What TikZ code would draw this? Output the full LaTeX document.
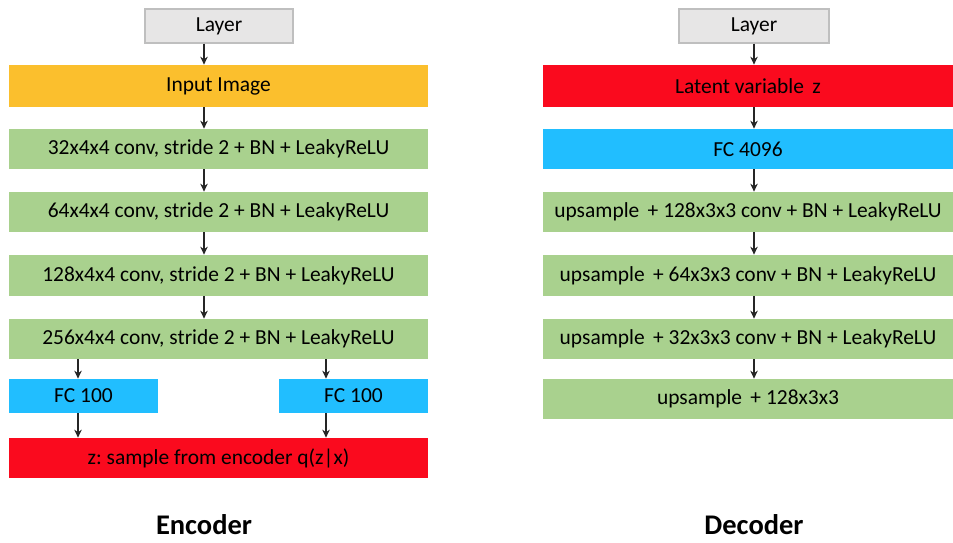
\documentclass[tikz,border=0pt]{standalone}
\usepackage{fontspec}
\setmainfont{Carlito}
\usetikzlibrary{arrows.meta}
\frenchspacing
\definecolor{layergray}{HTML}{E7E6E6}
\definecolor{layerline}{HTML}{BFBFBF}
\definecolor{inorange}{HTML}{FBBF2D}
\definecolor{convgreen}{HTML}{A9D18E}
\definecolor{fcblue}{HTML}{21BEFF}
\definecolor{zred}{HTML}{FA0A1E}
\tikzset{
	blk/.style={inner sep=0pt, minimum height=0.8cm, font=\fontsize{12.2}{14}\selectfont},
	layerbox/.style={blk, fill=layergray, draw=layerline, line width=0.6pt, minimum width=2.96cm, minimum height=0.68cm},
	wide/.style={minimum width=8.38cm},
	dwide/.style={minimum width=8.2cm},
	arr/.style={-{Stealth[length=1.6mm,width=1.5mm]}, line width=0.7pt, black!85},
	title/.style={inner sep=0pt, font=\fontsize{16.2}{18}\selectfont\bfseries}
}

\begin{document}
\begin{tikzpicture}
		%%%%% START %%%%%
		\useasboundingbox (0, 0) rectangle (19.06, -10.86);
		
		% encoder
		\node[layerbox] (lay1) at (4.38, -0.52) {Layer};
		\node[blk, wide, fill=inorange, minimum height=0.84cm] (inp) at (4.37, -1.72) {Input Image};
		\node[blk, wide, fill=convgreen] (c32) at (4.37, -2.98) {32x4x4 conv, stride 2 + BN + LeakyReLU};
		\node[blk, wide, fill=convgreen] (c64) at (4.37, -4.24) {64x4x4 conv, stride 2 + BN + LeakyReLU};
		\node[blk, wide, fill=convgreen, minimum height=0.82cm] (c128) at (4.37, -5.51) {128x4x4 conv, stride 2 + BN + LeakyReLU};
		\node[blk, wide, fill=convgreen] (c256) at (4.37, -6.78) {256x4x4 conv, stride 2 + BN + LeakyReLU};
		\node[blk, fill=fcblue, minimum width=2.98cm, minimum height=0.68cm] (fcl) at (1.67, -7.92) {FC 100};
		\node[blk, fill=fcblue, minimum width=2.98cm, minimum height=0.68cm] (fcr) at (7.07, -7.92) {FC 100};
		\node[blk, wide, fill=zred] (zs) at (4.37, -9.16) {z: sample from encoder q(z|x)};
		\node[title] (enc) at (4.08, -10.50) {Encoder};
		
		\coordinate (ea) at (4.08, 0);
		\coordinate (el) at (1.56, 0);
		\coordinate (er) at (6.52, 0);
		\draw[arr] (lay1.south -| ea) -- (inp.north -| ea);
		\draw[arr] (inp.south -| ea) -- (c32.north -| ea);
		\draw[arr] (c32.south -| ea) -- (c64.north -| ea);
		\draw[arr] (c64.south -| ea) -- (c128.north -| ea);
		\draw[arr] (c128.south -| ea) -- (c256.north -| ea);
		\draw[arr] (c256.south -| el) -- (fcl.north -| el);
		\draw[arr] (c256.south -| er) -- (fcr.north -| er);
		\draw[arr] (fcl.south -| el) -- (zs.north -| el);
		\draw[arr] (fcr.south -| er) -- (zs.north -| er);
		
		% decoder
		\node[layerbox, minimum width=3.0cm] (lay2) at (15.08, -0.52) {Layer};
		\node[blk, dwide, fill=zred, minimum height=0.84cm] (lat) at (14.96, -1.72) {Latent variable\, z};
		\node[blk, dwide, fill=fcblue] (fc4) at (14.96, -2.98) {FC 4096};
		\node[blk, dwide, fill=convgreen] (u128) at (14.96, -4.24) {upsample\, + 128x3x3 conv + BN + LeakyReLU};
		\node[blk, dwide, fill=convgreen, minimum height=0.82cm] (u64) at (14.96, -5.51) {upsample\, + 64x3x3 conv + BN + LeakyReLU};
		\node[blk, dwide, fill=convgreen] (u32) at (14.96, -6.78) {upsample\, + 32x3x3 conv + BN + LeakyReLU};
		\node[blk, dwide, fill=convgreen] (ufin) at (14.96, -7.98) {upsample\, + 128x3x3};
		\node[title] (dec) at (15.08, -10.50) {Decoder};
		
		\coordinate (da) at (15.08, 0);
		\draw[arr] (lay2.south -| da) -- (lat.north -| da);
		\draw[arr] (lat.south -| da) -- (fc4.north -| da);
		\draw[arr] (fc4.south -| da) -- (u128.north -| da);
		\draw[arr] (u128.south -| da) -- (u64.north -| da);
		\draw[arr] (u64.south -| da) -- (u32.north -| da);
		\draw[arr] (u32.south -| da) -- (ufin.north -| da);
		
		%%%%% END %%%%%
	\end{tikzpicture}
\end{document}
